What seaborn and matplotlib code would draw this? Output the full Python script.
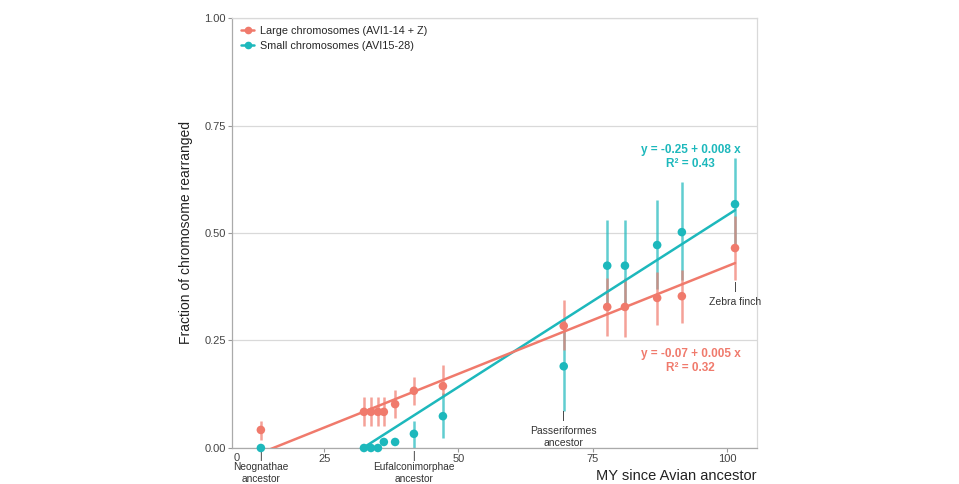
import numpy as np
import pandas as pd
import matplotlib
matplotlib.use("Agg")
import matplotlib.pyplot as plt
from matplotlib.lines import Line2D
import seaborn as sns

# ---- data ----
my_since = [13.2, 32.4, 33.7, 35.0, 36.1, 38.2, 41.7, 47.1, 69.6, 77.7, 81.0, 87.0, 91.6, 101.5]
large_frac = [0.042, 0.084, 0.084, 0.084, 0.084, 0.102, 0.133, 0.144, 0.284, 0.328, 0.328, 0.349, 0.353, 0.465]
large_lo = [0.019, 0.051, 0.051, 0.051, 0.051, 0.070, 0.100, 0.119, 0.228, 0.260, 0.258, 0.286, 0.291, 0.390]
large_hi = [0.063, 0.119, 0.119, 0.119, 0.119, 0.135, 0.165, 0.193, 0.344, 0.395, 0.395, 0.410, 0.415, 0.540]
small_frac = [0.0, 0.0, 0.0, 0.0, 0.014, 0.014, 0.033, 0.074, 0.190, 0.424, 0.424, 0.472, 0.502, 0.567]
small_lo = [0.0, 0.0, 0.0, 0.0, 0.014, 0.014, 0.0, 0.023, 0.085, 0.320, 0.320, 0.370, 0.390, 0.460]
small_hi = [0.0, 0.0, 0.0, 0.0, 0.014, 0.014, 0.063, 0.128, 0.300, 0.530, 0.530, 0.577, 0.619, 0.674]
series_names = ["Large chromosomes (AVI1-14 + Z)", "Small chromosomes (AVI15-28)"]
fit_intercept = [-0.0775, -0.257]
fit_slope = [0.005, 0.00798]
fit_text = ["y = -0.07 + 0.005 x\nR² = 0.32", "y = -0.25 + 0.008 x\nR² = 0.43"]
ytick_vals = [0.0, 0.25, 0.5, 0.75, 1.0]
ytick_labels = ["0.00", "0.25", "0.50", "0.75", "1.00"]
xtick_vals = [25, 50, 75, 100]
xtick_labels = ["25", "50", "75", "100"]
node_labels = ["Neognathae\nancestor", "Eufalconimorphae\nancestor", "Passeriformes\nancestor", "Zebra finch"]
node_x = [13.2, 41.7, 69.6, 101.5]

colors = ["#F07A6C", "#1DB8BC"]

df = pd.DataFrame({
    "x": my_since * 2,
    "y": large_frac + small_frac,
    "lo": large_lo + small_lo,
    "hi": large_hi + small_hi,
    "series": [series_names[0]] * len(my_since) + [series_names[1]] * len(my_since),
})

sns.set_theme(style="white")
plt.rcParams['font.family'] = ['Liberation Sans', 'DejaVu Sans']

fig = plt.figure(figsize=(9.59, 4.84), dpi=100)
ax = fig.add_axes([0.2419, 0.0744, 0.5475, 0.8884])

# gridlines
for v in ytick_vals:
    ax.axhline(v, color="#d9d9d9", lw=0.9, zorder=0)

# draw small first then large
order = [1, 0]
for i in order:
    name = series_names[i]
    sub = df[df.series == name]
    ax.vlines(sub.x, sub.lo, sub.hi, color=colors[i], lw=1.8, alpha=0.7, zorder=2)
    xs = np.array([sub.x.min(), sub.x.max()])
    ax.plot(xs, fit_intercept[i] + fit_slope[i] * xs, color=colors[i], lw=1.8, zorder=3)
for i in order:
    name = series_names[i]
    sub = df[df.series == name]
    sns.scatterplot(data=sub, x="x", y="y", color=colors[i], s=38, edgecolor="none",
                    ax=ax, zorder=4, legend=False, clip_on=False)

ax.set_xlim(7.82, 105.6)
ax.set_ylim(0, 1.0)
ax.set_yticks(ytick_vals)
ax.set_yticklabels(ytick_labels)
ax.set_xticks(xtick_vals)
ax.set_xticklabels(xtick_labels)
ax.tick_params(axis="both", labelsize=8, colors="#999999", labelcolor="#444444", length=3,
               width=0.8, pad=1.5, bottom=True, left=True)
ax.text(8.7, -0.012, "0", transform=ax.transData, ha="center", va="top", fontsize=8, color="#444444")

for s in ["top", "right"]:
    ax.spines[s].set_color("#d9d9d9")
    ax.spines[s].set_linewidth(0.9)
for s in ["left", "bottom"]:
    ax.spines[s].set_color("#aaaaaa")
    ax.spines[s].set_linewidth(0.9)

ax.set_ylabel("Fraction of chromosome rearranged", fontsize=10, color="#222222", labelpad=8)
ax.set_xlabel("")
fig.text(0.789, 0.003, "MY since Avian ancestor", ha="right", va="bottom", fontsize=10.5, color="#222222")

# node annotations below the axis
for k in [0, 1]:
    ax.annotate("|", xy=(node_x[k], 0), xytext=(0, -2), textcoords="offset points",
                ha="center", va="top", fontsize=7.5, color="#333333", annotation_clip=False)
    ax.annotate(node_labels[k], xy=(node_x[k], 0), xytext=(0, -9.8), textcoords="offset points",
                ha="center", va="top", fontsize=7.3, color="#333333", annotation_clip=False,
                linespacing=1.3)
# inside ones
inside_y = [0.085, 0.385]
for k, yv in zip([2, 3], inside_y):
    ax.text(node_x[k], yv, "|", ha="center", va="top", fontsize=8, color="#333333")
    ax.text(node_x[k], yv - 0.033, node_labels[k], ha="center", va="top", fontsize=7.5,
            color="#333333", linespacing=1.25)

# fit equations
ax.text(93.2, 0.203, fit_text[0], ha="center", va="center", fontsize=8.5, fontweight="bold",
        color=colors[0], linespacing=1.25)
ax.text(93.2, 0.676, fit_text[1], ha="center", va="center", fontsize=8.5, fontweight="bold",
        color=colors[1], linespacing=1.25)

handles = [Line2D([0], [0], color=colors[i], marker="o", markersize=4.5, lw=1.8) for i in range(2)]
ax.legend(handles, series_names, loc="upper left", bbox_to_anchor=(0.005, 0.997), frameon=False,
          fontsize=7.8, handlelength=1.2, handletextpad=0.5, labelspacing=0.45, borderaxespad=0.2)

fig.savefig("out.png", dpi=100)
